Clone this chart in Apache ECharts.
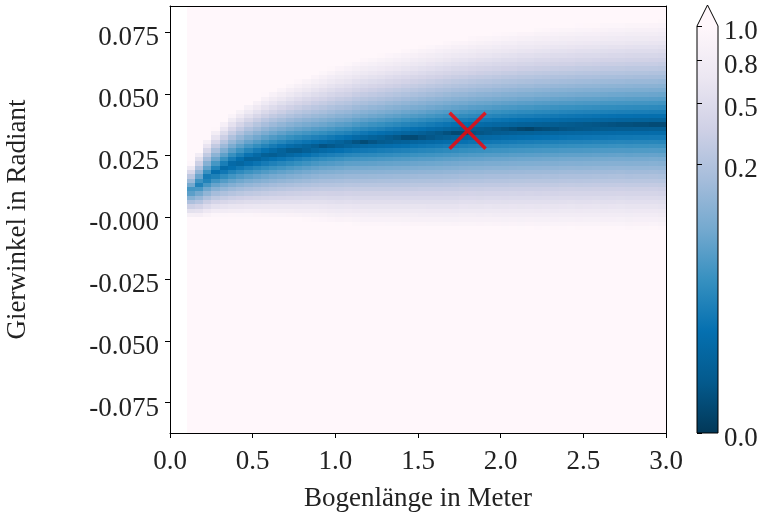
<!DOCTYPE html>
<html>
<head>
<meta charset="utf-8">
<script src="https://cdn.jsdelivr.net/npm/echarts@6/dist/echarts.min.js"></script>
<style>
  html, body { margin: 0; padding: 0; background: #fff; }
  #chart { width: 761px; height: 521px; }
</style>
</head>
<body>
<div id="chart"></div>
<script>
// Spalten der Karte (Bogenlänge, Mitte jeder Zelle), Schrittweite 0.05 m
var xCenters = [0.125, 0.175, 0.225, 0.275, 0.325, 0.375, 0.425, 0.475, 0.525, 0.575,
	0.625, 0.675, 0.725, 0.775, 0.825, 0.875, 0.925, 0.975, 1.025, 1.075,
	1.125, 1.175, 1.225, 1.275, 1.325, 1.375, 1.425, 1.475, 1.525, 1.575,
	1.625, 1.675, 1.725, 1.775, 1.825, 1.875, 1.925, 1.975, 2.025, 2.075,
	2.125, 2.175, 2.225, 2.275, 2.325, 2.375, 2.425, 2.475, 2.525, 2.575,
	2.625, 2.675, 2.725, 2.775, 2.825, 2.875, 2.925, 2.975];
/* Lage des dunklen Rückens je Spalte (rad) */
var ridgeYaw = [0.0109, 0.0133, 0.0160, 0.0182, 0.0198, 0.0212, 0.0223, 0.0233, 0.0241, 0.0249,
	0.0256, 0.0262, 0.0268, 0.0273, 0.0278, 0.0283, 0.0287, 0.0291, 0.0295, 0.0299,
	0.0303, 0.0306, 0.0309, 0.0312, 0.0315, 0.0318, 0.0321, 0.0324, 0.0327, 0.0330,
	0.0333, 0.0336, 0.0339, 0.0342, 0.0345, 0.0347, 0.0349, 0.0351, 0.0353, 0.0355,
	0.0357, 0.0358, 0.0360, 0.0361, 0.0362, 0.0364, 0.0365, 0.0366, 0.0367, 0.0368,
	0.0369, 0.0370, 0.0371, 0.0371, 0.0372, 0.0372, 0.0373, 0.0373];
/* halbe Breite des Bandes je Spalte (rad) */
var bandWidth = [0.0112, 0.0138, 0.0160, 0.0178, 0.0194, 0.0208, 0.0220, 0.0230, 0.0240, 0.0250,
	0.0258, 0.0266, 0.0274, 0.0282, 0.0290, 0.0298, 0.0306, 0.0315, 0.0323, 0.0327,
	0.0335, 0.0339, 0.0343, 0.0347, 0.0351, 0.0355, 0.0359, 0.0363, 0.0367, 0.0371,
	0.0375, 0.0379, 0.0383, 0.0383, 0.0387, 0.0391, 0.0391, 0.0395, 0.0399, 0.0399,
	0.0403, 0.0403, 0.0407, 0.0407, 0.0411, 0.0411, 0.0411, 0.0415, 0.0415, 0.0415,
	0.0419, 0.0419, 0.0419, 0.0423, 0.0423, 0.0423, 0.0423, 0.0427];
/* Farbwert am Rücken (0 = dunkel, 1 = hell) */
var ridgeLevel = [0.38, 0.31, 0.26, 0.23, 0.20, 0.18, 0.165, 0.15, 0.14, 0.13,
	0.12, 0.11, 0.10, 0.095, 0.09, 0.085, 0.08, 0.075, 0.07, 0.065,
	0.06, 0.055, 0.05, 0.05, 0.045, 0.045, 0.04, 0.04, 0.04, 0.035,
	0.035, 0.035, 0.035, 0.035, 0.035, 0.035, 0.035, 0.035, 0.035, 0.035,
	0.035, 0.035, 0.035, 0.035, 0.035, 0.035, 0.035, 0.035, 0.035, 0.035,
	0.035, 0.035, 0.035, 0.035, 0.035, 0.035, 0.035, 0.035];
/* Form des Profils quer zum Rücken (1 = linear, kleiner = spitzer) */
var profileExp = [1.0, 0.97, 0.94, 0.92, 0.90, 0.88, 0.86, 0.84, 0.82, 0.80,
	0.78, 0.76, 0.74, 0.72, 0.70, 0.68, 0.66, 0.65, 0.64, 0.63,
	0.63, 0.63, 0.63, 0.63, 0.63, 0.63, 0.63, 0.63, 0.63, 0.63,
	0.63, 0.63, 0.63, 0.63, 0.63, 0.63, 0.63, 0.63, 0.63, 0.63,
	0.63, 0.63, 0.63, 0.63, 0.63, 0.63, 0.63, 0.63, 0.63, 0.63,
	0.63, 0.63, 0.63, 0.63, 0.63, 0.63, 0.63, 0.63];
var markerPoint = [[1.8, 0.035]];

var yTicks = [-0.075, -0.05, -0.025, 0, 0.025, 0.05, 0.075];
var yTickLabels = ["-0.075", "-0.050", "-0.025", "-0.000", "0.025", "0.050", "0.075"];
var cbTickPos = [0, 0.66, 0.81, 0.916, 1];
var cbTickLabels = ["0.0", "0.2", "0.5", "0.8", "1.0"];

var deg = Math.PI / 180;
var cellW = 0.05;
var cellH = 0.1 * deg;
var yMin = -5 * deg, yMax = 4.9 * deg;

var puBuR = ['#023858', '#045a8d', '#0570b0', '#3690c0', '#74a9cf', '#a6bddb', '#d0d1e6', '#ece7f2', '#fff7fb'];

// Zellen aufbauen
var cells = [];
for (var i = 0; i < xCenters.length; i++) {
	for (var k = 0; k < 99; k++) {
		var y = yMin + (k + 0.5) * cellH;
		var d = Math.min(1, Math.abs(y - ridgeYaw[i]) / bandWidth[i]);
		var t = ridgeLevel[i] + (1 - ridgeLevel[i]) * Math.pow(d, profileExp[i]);
		cells.push([xCenters[i], y, t]);
	}
}

function renderCell(params, api) {
	var x = api.value(0), y = api.value(1);
	var p0 = api.coord([x - cellW / 2, y + cellH / 2]);
	var p1 = api.coord([x + cellW / 2, y - cellH / 2]);
	var x0 = Math.round(p0[0]), y0 = Math.round(p0[1]);
	return {
		type: 'rect',
		shape: { x: x0, y: y0, width: Math.round(p1[0]) - x0, height: Math.round(p1[1]) - y0 },
		style: { fill: api.visual('color') }
	};
}

function renderColorbar(params, api) {
	var b = api.coord([0, 0]);
	var t = api.coord([1, 1]);
	var w = t[0] - b[0];
	var stops = puBuR.map(function(c, j) { return { offset: j / (puBuR.length - 1), color: c }; });
	var tipY = t[1] - 21;
	return {
		type: 'group',
		children: [{
			type: 'rect',
			shape: { x: b[0], y: t[1], width: w, height: b[1] - t[1] },
			style: { fill: new echarts.graphic.LinearGradient(0, 1, 0, 0, stops) }
		}, {
			type: 'polygon',
			shape: { points: [[b[0], t[1]], [b[0] + w / 2, tipY], [t[0], t[1]]] },
			style: { fill: '#fff7fb' }
		}, {
			type: 'polygon',
			shape: { points: [[b[0], b[1]], [b[0], t[1]], [b[0] + w / 2, tipY], [t[0], t[1]], [t[0], b[1]]] },
			style: { fill: 'none', stroke: '#000', lineWidth: 1 }
		}]
	};
}

var font = { fontFamily: 'Liberation Serif', fontSize: 27, color: '#222' };
// Beschriftung etwas unter die Ticks rücken (wie im Original)
var lowered = { p: Object.assign({ padding: [12, 0, 0, 0] }, font) };

function lookup(vals, labels) {
	return function(v) {
		for (var j = 0; j < vals.length; j++) {
			if (Math.abs(vals[j] - v) < 1e-9) return '{p|' + labels[j] + '}';
		}
		return '';
	};
}

var chart = echarts.init(document.getElementById('chart'));
chart.setOption({
	animation: false,
	backgroundColor: '#fff',
	grid: [
		{ left: 170, top: 6, width: 496, height: 427, outerBoundsMode: 'none' },
		{ left: 697, top: 26, width: 21, height: 407, outerBoundsMode: 'none' }
	],
	xAxis: [{
		gridIndex: 0, type: 'value', min: 0, max: 3, interval: 0.5, z: 10,
		name: 'Bogenlänge in Meter', nameLocation: 'middle', nameGap: 52,
		nameTextStyle: font,
		axisLine: { onZero: false, lineStyle: { color: '#000', width: 1 } },
		axisTick: { length: 5, lineStyle: { color: '#000' } },
		axisLabel: Object.assign({ margin: 15, formatter: function(v) { return v.toFixed(1); } }, font),
		splitLine: { show: false }
	}, {
		gridIndex: 0, type: 'value', min: 0, max: 3, position: 'top', z: 10,
		axisLine: { onZero: false, lineStyle: { color: '#000', width: 1 } },
		axisTick: { show: false }, axisLabel: { show: false }, splitLine: { show: false }
	}, {
		gridIndex: 1, type: 'value', min: 0, max: 1, show: false
	}],
	yAxis: [{
		gridIndex: 0, type: 'value', min: yMin, max: yMax, z: 10,
		name: 'Gierwinkel in Radiant', nameLocation: 'middle', nameGap: 139,
		nameTextStyle: font,
		axisLine: { show: true, onZero: false, lineStyle: { color: '#000', width: 1 } },
		axisTick: { show: true, length: 5, customValues: yTicks, lineStyle: { color: '#000' } },
		axisLabel: Object.assign({
			margin: 11, customValues: yTicks, rich: lowered,
			formatter: lookup(yTicks, yTickLabels)
		}, font),
		splitLine: { show: false }
	}, {
		gridIndex: 0, type: 'value', min: yMin, max: yMax, position: 'right', z: 10,
		axisLine: { show: true, onZero: false, lineStyle: { color: '#000', width: 1 } },
		axisTick: { show: false }, axisLabel: { show: false }, splitLine: { show: false }
	}, {
		gridIndex: 1, type: 'value', min: 0, max: 1, position: 'right', z: 10,
		axisLine: { show: false },
		axisTick: { show: true, length: 5, customValues: cbTickPos, lineStyle: { color: '#000' } },
		axisLabel: Object.assign({
			margin: 6, customValues: cbTickPos, rich: lowered,
			formatter: lookup(cbTickPos, cbTickLabels)
		}, font),
		splitLine: { show: false }
	}],
	visualMap: {
		show: false, type: 'continuous', seriesIndex: 0, dimension: 2,
		min: 0, max: 1, inRange: { color: puBuR }
	},
	series: [{
		type: 'custom',
		xAxisIndex: 0, yAxisIndex: 0,
		renderItem: renderCell,
		clip: true,
		data: cells
	}, {
		type: 'custom',
		xAxisIndex: 2, yAxisIndex: 2,
		renderItem: renderColorbar,
		clip: false,
		data: [[0, 0]]
	}, {
		type: 'scatter',
		xAxisIndex: 0, yAxisIndex: 0,
		symbol: 'path://M0 0L10 10M10 0L0 10',
		symbolSize: 36,
		z: 5,
		itemStyle: { color: 'rgba(0,0,0,0)', borderColor: '#ff0000', borderWidth: 3.5 },
		data: markerPoint
	}]
});
</script>
</body>
</html>
